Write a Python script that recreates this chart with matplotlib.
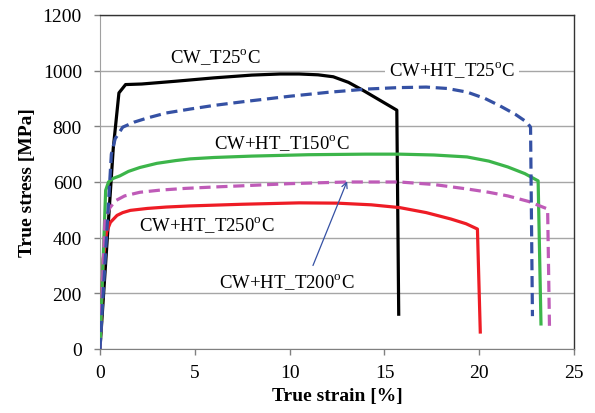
import matplotlib
matplotlib.use("Agg")
import matplotlib.pyplot as plt

plt.rcParams['font.family'] = ['Liberation Serif', 'DejaVu Serif']
plt.rcParams['mathtext.fontset'] = 'custom'
plt.rcParams['mathtext.rm'] = 'Liberation Serif'

# Data (true strain %, true stress MPa)
cw25_x = [0, 0.7, 1.0, 1.35, 2.2, 4, 6, 8, 9.5, 10.5, 11.5, 12.3, 13.1, 13.9, 14.8, 15.65, 15.75]
cw25_y = [0, 720, 920, 950, 952, 962, 974, 984, 988, 988, 985, 978, 958, 928, 892, 858, 125]

ht25_x = [0, 0.6, 0.8, 1.2, 1.8, 2.5, 3.5, 4.75, 6, 7.5, 10, 12, 14.1, 15.7, 17.2, 18.3, 19.35, 20.3, 21.1, 21.9, 22.5, 22.7, 22.8]
ht25_y = [0, 700, 755, 797, 815, 830, 848, 862, 875, 888, 908, 922, 934, 939, 941, 936, 923, 900, 873, 843, 815, 797, 118]

ht150_x = [0, 0.3, 0.45, 0.7, 1.05, 1.5, 2.1, 3, 4, 4.75, 6, 8, 11, 14, 15.8, 17.6, 19.35, 20.5, 21.5, 22.4, 23.1, 23.25]
ht150_y = [0, 570, 600, 613, 622, 638, 652, 667, 677, 683, 688, 693, 698, 700, 700, 697, 690, 675, 654, 630, 604, 90]

ht200_x = [0, 0.26, 0.5, 0.8, 1.3, 2.1, 3.2, 4.5, 6, 7.4, 10, 13, 15.8, 17.6, 19.35, 20.5, 21.5, 22.6, 23.6, 23.7]
ht200_y = [0, 460, 505, 532, 550, 563, 571, 577, 582, 586, 594, 600, 600, 591, 575, 563, 550, 530, 503, 72]

ht250_x = [0, 0.17, 0.35, 0.55, 0.9, 1.2, 1.6, 2.5, 3.5, 4.75, 7.5, 10.5, 12.5, 14.3, 15.8, 17.2, 18.5, 19.3, 19.9, 20.05]
ht250_y = [0, 323, 420, 455, 480, 490, 498, 505, 510, 514, 520, 525, 524, 518, 508, 490, 467, 450, 431, 61]

x_ticks = [0, 5, 10, 15, 20, 25]
y_ticks = [0, 200, 400, 600, 800, 1000, 1200]

fig = plt.figure(figsize=(5.95, 4.14), dpi=100)
ax = fig.add_axes([0.168, 0.1546, 0.797, 0.8068])

ax.set_xlim(0, 25)
ax.set_ylim(0, 1200)
ax.set_xticks(x_ticks)
ax.set_yticks(y_ticks)
ax.set_xticklabels([str(v) for v in x_ticks], fontfamily='Liberation Serif')
ax.set_yticklabels([str(v) for v in y_ticks], fontfamily='Liberation Serif')
ax.grid(axis='y', color='#a6a6a6', linewidth=1.0, zorder=0)
ax.set_axisbelow(True)

for s in ['top', 'right']:
    ax.spines[s].set_color('#333333')
    ax.spines[s].set_linewidth(1.0)
ax.spines['left'].set_color('#a0a0a0')
ax.spines['bottom'].set_color('#808080')
ax.tick_params(axis='both', direction='out', length=4, color='#808080',
               labelsize=14, width=1)
ax.tick_params(axis='x', pad=7)
ax.tick_params(axis='y', pad=9)

ax.plot(cw25_x, cw25_y, color='black', lw=2.3, zorder=3)
ax.plot(ht250_x, ht250_y, color='#ee1c25', lw=2.3, zorder=3)
ax.plot(ht150_x, ht150_y, color='#3cb54a', lw=2.3, zorder=3)
ax.plot(ht200_x, ht200_y, color='#bf5bb8', lw=2.3, ls=(0, (3.5, 1.8)), zorder=3)
ax.plot(ht25_x, ht25_y, color='#3551a4', lw=2.3, ls=(0, (3.5, 1.8)), zorder=4)

fs = 13.5
ax.text(6.07, 1053, r"CW_T25$^{\mathrm{o}}$C", fontsize=fs, ha='center', va='center')
ax.text(18.57, 1006, r"CW+HT_T25$^{\mathrm{o}}$C", fontsize=fs, ha='center', va='center',
        bbox=dict(facecolor='white', edgecolor='none', pad=3), zorder=5)
ax.text(9.6, 744, r"CW+HT_T150$^{\mathrm{o}}$C", fontsize=fs, ha='center', va='center')
ax.text(5.65, 449, r"CW+HT_T250$^{\mathrm{o}}$C", fontsize=fs, ha='center', va='center')
ax.text(9.87, 244, r"CW+HT_T200$^{\mathrm{o}}$C", fontsize=fs, ha='center', va='center')
ax.annotate("", xy=(13.03, 603), xytext=(11.23, 300),
            arrowprops=dict(arrowstyle='->', color='#3551a4', lw=0.9,
                            shrinkA=0, shrinkB=0), zorder=6)

ax.set_xlabel("True strain [%]", fontsize=14, fontweight='bold', labelpad=4)
ax.set_ylabel("True stress [MPa]", fontsize=14, fontweight='bold', labelpad=5)

fig.savefig("out.png", dpi=100)
